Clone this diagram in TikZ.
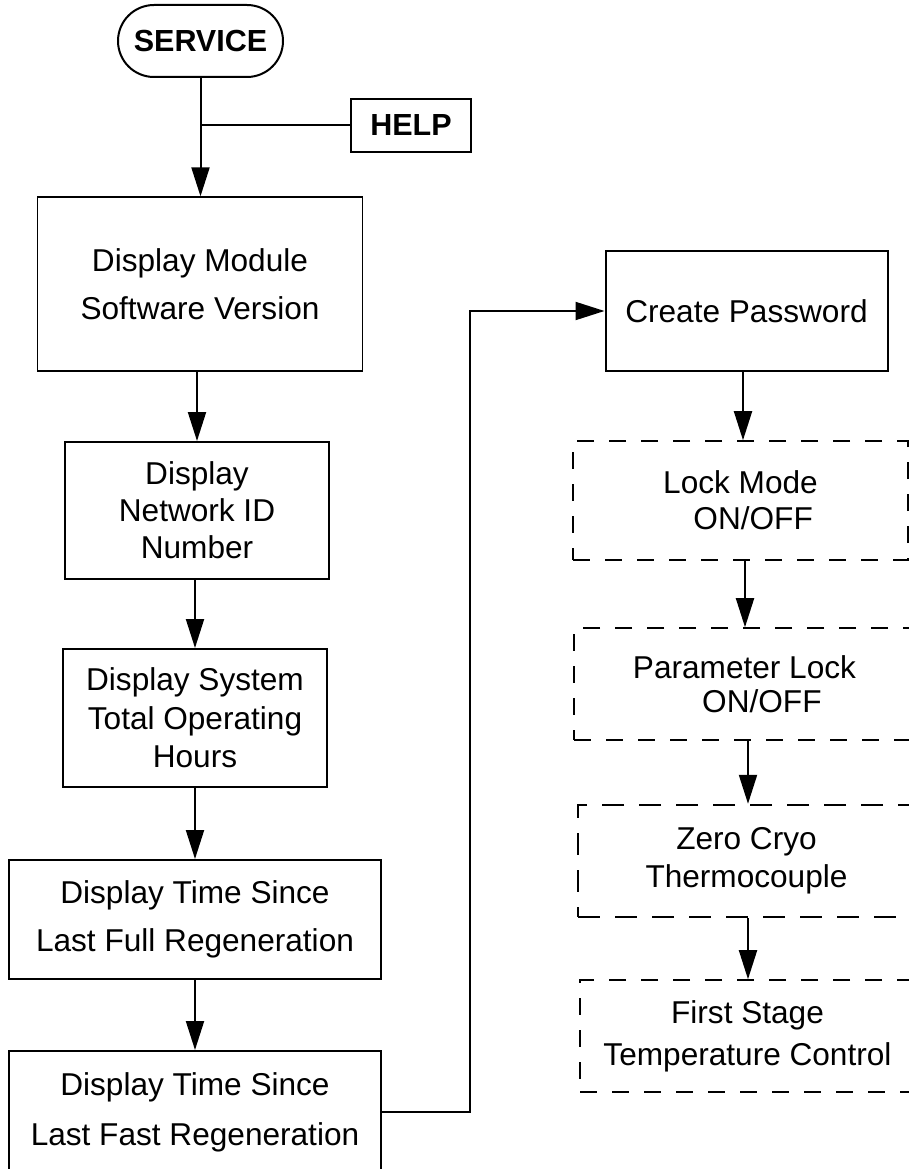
\documentclass[tikz,border=0pt]{standalone}
\usepackage{fontspec}
\setmainfont{Liberation Sans}
\usetikzlibrary{arrows.meta}
\tikzset{
  box/.style={draw, line width=2pt, inner sep=0pt, align=center,
    font=\fontsize{31.6}{48}\selectfont},
  thinbox/.style={box, line width=1.3pt},
  dbox/.style={box, line width=1.6pt, dash pattern=on 17pt off 15pt},
  thickdbox/.style={box, line width=2.4pt, dash pattern=on 22pt off 15pt},
  boldbox/.style={draw, line width=2pt, inner sep=0pt, align=center,
    font=\fontsize{30.5}{36}\selectfont\bfseries},
  arr/.style={-{Triangle[length=29pt,width=18pt]}, line width=2pt},
  link/.style={line width=2pt}
}
\begin{document}
\begin{tikzpicture}[x=1pt,y=-1pt]
\useasboundingbox (0,0) rectangle (909,1169);
% left column
\node[boldbox, rounded corners=36pt, minimum width=165pt, minimum height=72pt] (serv) at (200.5,41) {SERVICE};
\node[boldbox, minimum width=120pt, minimum height=53pt] (help) at (411,125.5) {HELP};
\node[thinbox, minimum width=325pt, minimum height=174pt] (dm) at (200,284) {Display Module\\Software Version};
\node[box, minimum width=264pt, minimum height=137pt, font=\fontsize{31.6}{37}\selectfont] (nid) at (197,510.5) {Display\\Network ID\\Number};
\node[box, minimum width=264pt, minimum height=138pt, font=\fontsize{31.6}{38.5}\selectfont] (hrs) at (195,718) {Display System\\Total Operating\\Hours};
\node[box, minimum width=372pt, minimum height=119pt] (full) at (195,919.5) {Display Time Since\\Last Full Regeneration};
\node[box, minimum width=372pt, minimum height=122pt, font=\fontsize{31.6}{50}\selectfont] (fast) at (195,1112) {Display Time Since\\Last Fast Regeneration};
% right column
\node[box, minimum width=282pt, minimum height=120pt] (cp) at (746.5,311) {Create Password};
\node[dbox, minimum width=335pt, minimum height=119pt, font=\fontsize{31.6}{36}\selectfont] (lm) at (740.5,500.5) {Lock Mode\\\hspace*{0.8em}ON/OFF};
\node[dbox, minimum width=341pt, minimum height=112pt, font=\fontsize{31.6}{34}\selectfont] (pl) at (744.5,684) {Parameter Lock\\\hspace*{1.1em}ON/OFF};
\node[thickdbox, minimum width=337pt, minimum height=112pt, font=\fontsize{31.6}{38}\selectfont] (zc) at (746.5,861) {Zero Cryo\\Thermocouple};
\node[dbox, minimum width=335pt, minimum height=112pt, font=\fontsize{31.6}{42}\selectfont] (fs) at (747.5,1036) {First Stage\\Temperature Control};
% connectors
\draw[arr] (serv.south) -- (serv.south |- dm.north);
\draw[link] (help.west) -- (help.west -| serv.south);
\draw[arr] (dm.south -| nid.north) -- (nid.north);
\draw[arr] (nid.south -| hrs.north) -- (hrs.north);
\draw[arr] (hrs.south -| full.north) -- (full.north);
\draw[arr] (full.south) -- (fast.north);
\coordinate (bend) at (470,1111);
\draw[arr] (fast.east) -- (fast.east -| bend) |- (cp.west);
\draw[arr] (cp.south -| 743,0) -- (lm.north -| 743,0);
\draw[arr] (lm.south -| 745,0) -- (pl.north -| 745,0);
\draw[arr] (pl.south -| 748,0) -- (zc.north -| 748,0);
\draw[arr] (zc.south -| 748,0) -- (fs.north -| 748,0);
\end{tikzpicture}
\end{document}
